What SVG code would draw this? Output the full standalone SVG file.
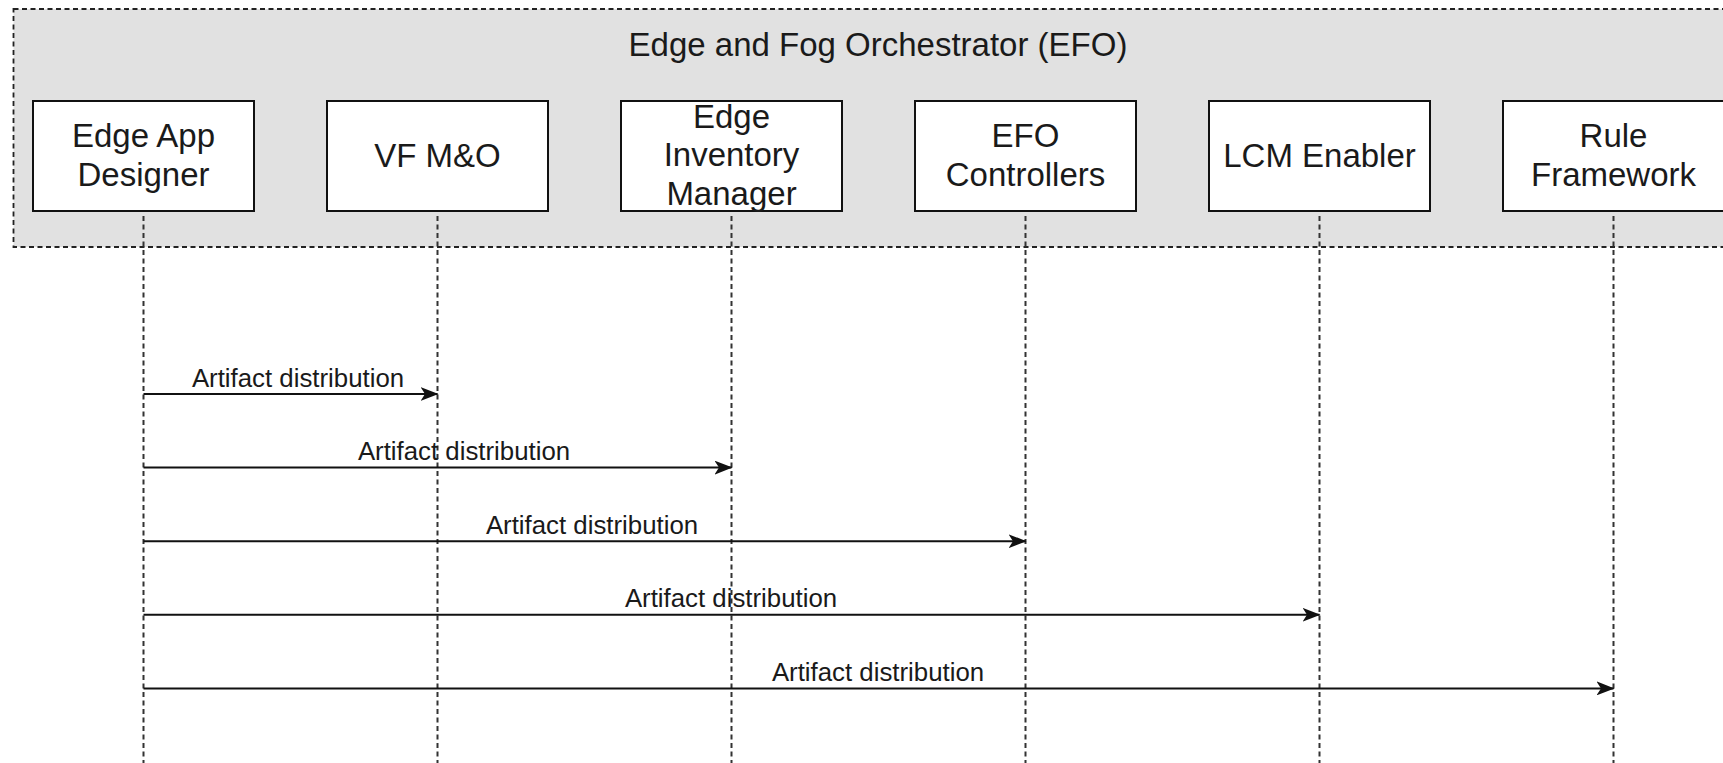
<svg xmlns="http://www.w3.org/2000/svg" width="1723" height="763" viewBox="0 0 1723 763">
<style>
.container{fill:#e1e1e1;stroke:#222;stroke-width:1.8;stroke-dasharray:5 3.5}
.node{fill:#ffffff;stroke:#111;stroke-width:2}
.ntext{font-family:"Liberation Sans",Arial,sans-serif;font-size:33px;fill:#1a1a1a;text-anchor:middle}
.title{font-family:"Liberation Sans",Arial,sans-serif;font-size:33px;fill:#1a1a1a;text-anchor:middle}
.life{stroke:#333;stroke-width:2;stroke-dasharray:5 3.5;fill:none}
.msg{stroke:#111;stroke-width:2;fill:none}
.ltext{font-family:"Liberation Sans",Arial,sans-serif;font-size:25.8px;fill:#1a1a1a;text-anchor:middle}
</style>
<defs>
<marker id="arr" viewBox="0 0 18 14" refX="17" refY="7" markerWidth="18" markerHeight="14" markerUnits="userSpaceOnUse" orient="auto">
<path d="M0,0 L18,7 L0,14 L4.5,7 Z" fill="#111"/>
</marker>
</defs>
<g id="efo-container">
<rect class="container" x="13.5" y="9" width="1740" height="238"/>
<text class="title" x="878" y="56">Edge and Fog Orchestrator (EFO)</text>
</g>
<g id="lifelines">
<line class="life" x1="143.5" y1="216" x2="143.5" y2="763"/>
<line class="life" x1="437.5" y1="216" x2="437.5" y2="763"/>
<line class="life" x1="731.5" y1="216" x2="731.5" y2="763"/>
<line class="life" x1="1025.5" y1="216" x2="1025.5" y2="763"/>
<line class="life" x1="1319.5" y1="216" x2="1319.5" y2="763"/>
<line class="life" x1="1613.5" y1="216" x2="1613.5" y2="763"/>
</g>
<g id="node-edge-app-designer">
<rect class="node" x="33" y="101" width="221" height="110"/>
<text class="ntext" x="143.5" y="147.3">Edge App</text>
<text class="ntext" x="143.5" y="185.7">Designer</text>
</g>
<g id="node-vf-mo">
<rect class="node" x="327" y="101" width="221" height="110"/>
<text class="ntext" x="437.5" y="167">VF M&amp;O</text>
</g>
<g id="node-edge-inventory-manager">
<rect class="node" x="621" y="101" width="221" height="110"/>
<text class="ntext" x="731.5" y="127.5">Edge</text>
<text class="ntext" x="731.5" y="166">Inventory</text>
<text class="ntext" x="731.5" y="204.5">Manager</text>
</g>
<g id="node-efo-controllers">
<rect class="node" x="915" y="101" width="221" height="110"/>
<text class="ntext" x="1025.5" y="147.3">EFO</text>
<text class="ntext" x="1025.5" y="185.7">Controllers</text>
</g>
<g id="node-lcm-enabler">
<rect class="node" x="1209" y="101" width="221" height="110"/>
<text class="ntext" x="1319.5" y="167">LCM Enabler</text>
</g>
<g id="node-rule-framework">
<rect class="node" x="1503" y="101" width="221" height="110"/>
<text class="ntext" x="1613.5" y="147.3">Rule</text>
<text class="ntext" x="1613.5" y="185.7">Framework</text>
</g>
<g id="connectors">
<line class="msg" x1="143.5" y1="394" x2="437.5" y2="394" marker-end="url(#arr)"/>
<text class="ltext" x="298" y="386.5">Artifact distribution</text>
<line class="msg" x1="143.5" y1="467.6" x2="731.5" y2="467.6" marker-end="url(#arr)"/>
<text class="ltext" x="464" y="460">Artifact distribution</text>
<line class="msg" x1="143.5" y1="541.2" x2="1025.5" y2="541.2" marker-end="url(#arr)"/>
<text class="ltext" x="592" y="533.6">Artifact distribution</text>
<line class="msg" x1="143.5" y1="614.8" x2="1319.5" y2="614.8" marker-end="url(#arr)"/>
<text class="ltext" x="731" y="607.2">Artifact distribution</text>
<line class="msg" x1="143.5" y1="688.4" x2="1613.5" y2="688.4" marker-end="url(#arr)"/>
<text class="ltext" x="878" y="680.8">Artifact distribution</text>
</g>
</svg>
